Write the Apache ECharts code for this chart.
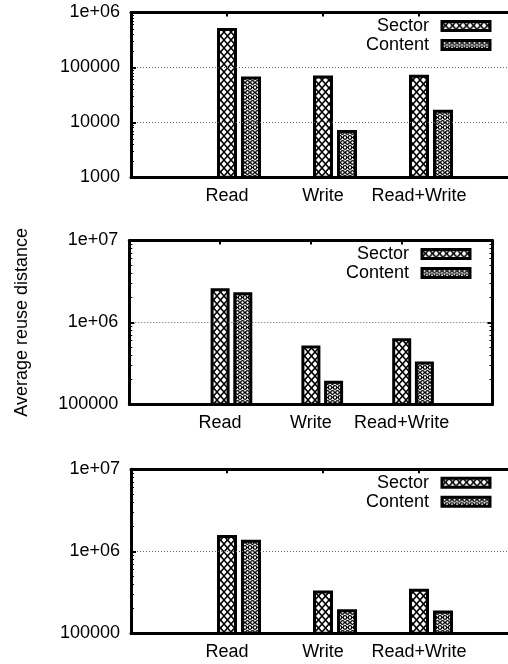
<!DOCTYPE html>
<html>
<head>
<meta charset="utf-8">
<script src="https://cdn.jsdelivr.net/npm/echarts@6/dist/echarts.min.js"></script>
<style>
  html, body { margin: 0; padding: 0; background: #fff; }
  #chart { width: 508px; height: 664px; }
</style>
</head>
<body>
<div id="chart"></div>
<script>
// Access categories and series names
const categories = ['Read', 'Write', 'Read+Write'];
const seriesNames = ['Sector', 'Content'];

// Average reuse distance per access type, one pair of arrays per panel
const p1Sector = [522000, 71300, 73500];
const p1Content = [68400, 7260, 16900];
const p2Sector = [2610000, 521000, 640000];
const p2Content = [2330000, 193000, 332000];
const p3Sector = [1580000, 332000, 349000];
const p3Content = [1380000, 197000, 190000];

// Y tick labels (log scale) per panel
const p1Ticks = ['1000', '10000', '100000', '1e+06'];
const p2Ticks = ['100000', '1e+06', '1e+07'];
const p3Ticks = ['100000', '1e+06', '1e+07'];

const yTitle = 'Average reuse distance';

const FONT = '"Liberation Sans", Arial, Helvetica, sans-serif';

// Hatch fills in the style of gnuplot fill patterns
function crossHatch() {
  const w = 7, h = 8;
  const c = document.createElement('canvas');
  c.width = w; c.height = h;
  const g = c.getContext('2d');
  g.fillStyle = '#fff'; g.fillRect(0, 0, w, h);
  g.strokeStyle = '#000'; g.lineWidth = 1.5;
  g.beginPath();
  g.moveTo(-w, -h); g.lineTo(2 * w, 2 * h);
  g.moveTo(2 * w, -h); g.lineTo(-w, 2 * h);
  g.stroke();
  return c;
}
function ringHatch() {
  const w = 5, h = 10;
  const c = document.createElement('canvas');
  c.width = w; c.height = h;
  const g = c.getContext('2d');
  g.fillStyle = '#fff'; g.fillRect(0, 0, w, h);
  g.strokeStyle = '#000'; g.lineWidth = 1.3;
  [[2.5, 2.5], [0, 7.5], [5, 7.5]].forEach(([x, y]) => {
    g.beginPath(); g.arc(x, y, 1.8, 0, Math.PI * 2); g.stroke();
  });
  g.fillStyle = '#000';
  g.fillRect(2, 7, 1, 1);
  g.fillRect(0, 2, 1, 1); g.fillRect(4, 2, 1, 1);
  return c;
}
const sectorFill = { image: crossHatch(), repeat: 'repeat' };
const contentFill = { image: ringHatch(), repeat: 'repeat' };

const panels = [
  { sector: p1Sector, content: p1Content, ticks: p1Ticks, barWidth: 20,
    grid: { left: 131, top: 12.5, width: 384, height: 164.8 },
    legend: { right: 11.5, top: 12 } },
  { sector: p2Sector, content: p2Content, ticks: p2Ticks, barWidth: 19,
    grid: { left: 129.3, top: 240.5, width: 363.2, height: 163.7 },
    legend: { right: 31.5, top: 240 }, title: true },
  { sector: p3Sector, content: p3Content, ticks: p3Ticks, barWidth: 20,
    grid: { left: 131, top: 469.2, width: 384, height: 164.1 },
    legend: { right: 11.5, top: 468.7 } }
];

function minorValues(min, max) {
  const out = [];
  for (let d = min; d < max; d *= 10) {
    for (let k = 2; k <= 9; k++) out.push(d * k);
  }
  return out;
}

const grid = [], xAxis = [], yAxis = [], series = [], legend = [];

panels.forEach((p, i) => {
  const tickVals = p.ticks.map(Number);
  const yMin = Math.min.apply(null, tickVals);
  const yMax = Math.max.apply(null, tickVals);
  // the first and last panels run past the right edge of the canvas
  grid.push(Object.assign({ containLabel: false, outerBoundsMode: 'none' }, p.grid));

  const xBase = { type: 'value', gridIndex: i, min: 0, max: 4, interval: 1, z: 10,
    splitLine: { show: false },
    axisLine: { show: true, lineStyle: { color: '#000', width: 3 } } };
  // bottom axis with the access-type labels
  xAxis.push(Object.assign({}, xBase, {
    position: 'bottom',
    axisTick: { show: false },
    axisLabel: { margin: 10, color: '#000', fontSize: 18, fontFamily: FONT,
      formatter: v => categories[v - 1] || '' }
  }));
  // mirrored top axis carrying the tick marks
  xAxis.push(Object.assign({}, xBase, {
    position: 'top',
    axisTick: { show: true, inside: true, length: 4, lineStyle: { color: '#000', width: 2 } },
    axisLabel: { show: false }
  }));

  const yBase = { type: 'log', logBase: 10, gridIndex: i, min: yMin, max: yMax, z: 10 };
  const yi = yAxis.length;
  // main left axis: labels, major ticks, dotted grid
  yAxis.push(Object.assign({}, yBase, {
    position: 'left',
    axisLine: { show: true, lineStyle: { color: '#000', width: 3 } },
    axisTick: { show: true, inside: true, length: 5, lineStyle: { color: '#000', width: 2 } },
    axisLabel: { margin: 11, color: '#000', fontSize: 18, fontFamily: FONT,
      customValues: tickVals,
      formatter: v => { const k = tickVals.findIndex(t => Math.abs(t - v) / t < 1e-6); return k >= 0 ? p.ticks[k] : ''; } },
    splitLine: { show: true, lineStyle: { color: '#666', width: 1, type: [1, 2] } },
    name: p.title ? yTitle : '',
    nameLocation: 'middle', nameRotate: 90, nameGap: 98,
    nameTextStyle: { color: '#000', fontSize: 18, fontFamily: FONT }
  }));
  // minor ticks on the left
  yAxis.push(Object.assign({}, yBase, {
    position: 'left',
    axisLine: { show: false },
    axisTick: { show: true, inside: true, length: 3, customValues: minorValues(yMin, yMax),
      lineStyle: { color: '#000', width: 1 } },
    axisLabel: { show: false },
    splitLine: { show: false }
  }));
  // right border with mirrored major ticks
  yAxis.push(Object.assign({}, yBase, {
    position: 'right',
    axisLine: { show: true, lineStyle: { color: '#000', width: 3 } },
    axisTick: { show: true, inside: true, length: 5, lineStyle: { color: '#000', width: 2 } },
    axisLabel: { show: false },
    splitLine: { show: false }
  }));
  // right minor ticks
  yAxis.push(Object.assign({}, yBase, {
    position: 'right',
    axisLine: { show: false },
    axisTick: { show: true, inside: true, length: 3, customValues: minorValues(yMin, yMax),
      lineStyle: { color: '#000', width: 1 } },
    axisLabel: { show: false },
    splitLine: { show: false }
  }));

  const barStyle = { borderColor: '#000', borderWidth: 3 };
  series.push({
    name: seriesNames[0], type: 'bar', xAxisIndex: i * 2, yAxisIndex: yi,
    barWidth: p.barWidth, barGap: '-100%', clip: true,
    itemStyle: Object.assign({ color: sectorFill }, barStyle),
    data: p.sector.map((v, k) => [k + 1, v])
  });
  series.push({
    name: seriesNames[1], type: 'bar', xAxisIndex: i * 2, yAxisIndex: yi,
    barWidth: p.barWidth, barGap: '-100%', clip: true,
    itemStyle: Object.assign({ color: contentFill }, barStyle),
    data: p.content.map((v, k) => [k + 1.25, v])
  });

  legend.push({
    data: seriesNames, orient: 'vertical', align: 'right',
    right: p.legend.right, top: p.legend.top,
    itemWidth: 48, itemHeight: 9, itemGap: 1, selectedMode: false,
    icon: 'rect',
    itemStyle: { borderColor: '#000', borderWidth: 3 },
    textStyle: { color: '#000', fontSize: 18, fontFamily: FONT, padding: [0, 8, 0, 0] }
  });
});

const chart = echarts.init(document.getElementById('chart'), null, { renderer: 'canvas' });
chart.setOption({
  animation: false,
  backgroundColor: '#fff',
  grid, xAxis, yAxis, series, legend
});
</script>
</body>
</html>
